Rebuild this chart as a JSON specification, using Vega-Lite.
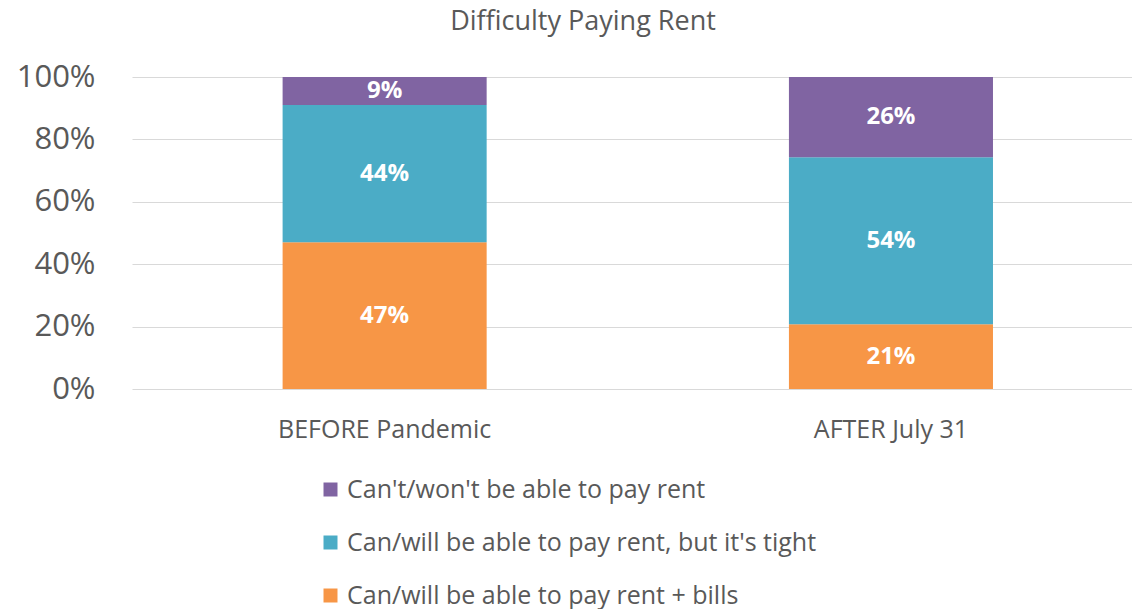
{
  "$schema": "https://vega.github.io/schema/vega-lite/v6.json",
  "autosize": "none",
  "width": 1000,
  "height": 312,
  "padding": {"left": 132, "top": 77, "right": 0, "bottom": 220},
  "background": "white",
  "config": {
    "font": "Open Sans",
    "view": {"stroke": null}
  },
  "title": {
    "text": "Difficulty Paying Rent",
    "fontSize": 27,
    "fontWeight": "normal",
    "color": "#595959",
    "font": "Open Sans",
    "anchor": "middle",
    "dx": -49,
    "offset": 25
  },
  "data": {
    "values": [
      {"period": "BEFORE Pandemic", "response": "Can/will be able to pay rent + bills", "value": 47, "label": "47%", "ord": 1},
      {"period": "BEFORE Pandemic", "response": "Can/will be able to pay rent, but it's tight", "value": 44, "label": "44%", "ord": 2},
      {"period": "BEFORE Pandemic", "response": "Can't/won't be able to pay rent", "value": 9, "label": "9%", "ord": 3},
      {"period": "AFTER July 31", "response": "Can/will be able to pay rent + bills", "value": 21, "label": "21%", "ord": 1},
      {"period": "AFTER July 31", "response": "Can/will be able to pay rent, but it's tight", "value": 54, "label": "54%", "ord": 2},
      {"period": "AFTER July 31", "response": "Can't/won't be able to pay rent", "value": 26, "label": "26%", "ord": 3}
    ]
  },
  "encoding": {
    "x": {
      "field": "period",
      "type": "nominal",
      "sort": ["BEFORE Pandemic", "AFTER July 31"],
      "scale": {"paddingInner": 0.597, "paddingOuter": 0.286, "align": 0.52},
      "axis": {
        "title": null,
        "labelAngle": 0,
        "labelFontSize": 25,
        "labelColor": "#595959",
        "labelPadding": 28,
        "labelLimit": 500,
        "domain": false,
        "ticks": false
      }
    },
    "y": {
      "field": "value",
      "type": "quantitative",
      "stack": "normalize",
      "axis": {
        "title": null,
        "format": ".0%",
        "values": [0, 0.2, 0.4, 0.6, 0.8, 1],
        "labelFontSize": 31,
        "labelColor": "#595959",
        "labelPadding": 37,
        "domain": false,
        "ticks": false,
        "gridColor": "#d9d9d9",
        "gridWidth": 1.2
      }
    },
    "order": {"field": "ord", "type": "quantitative"}
  },
  "layer": [
    {
      "mark": {"type": "bar"},
      "encoding": {
        "color": {
          "field": "response",
          "type": "nominal",
          "scale": {
            "domain": ["Can't/won't be able to pay rent", "Can/will be able to pay rent, but it's tight", "Can/will be able to pay rent + bills"],
            "range": ["#8064A2", "#4BACC6", "#F79646"]
          },
          "legend": {
            "title": null,
            "orient": "none",
            "legendX": 186,
            "legendY": 400,
            "direction": "vertical",
            "symbolType": "square",
            "symbolSize": 196,
            "symbolStrokeWidth": 0,
            "labelFontSize": 25,
            "labelColor": "#595959",
            "labelOffset": 4,
            "rowPadding": 27,
            "labelLimit": 800
          }
        }
      }
    },
    {
      "mark": {"type": "text", "color": "white", "fontSize": 24, "fontWeight": "bold", "baseline": "middle"},
      "encoding": {
        "y": {"field": "value", "type": "quantitative", "stack": "normalize", "bandPosition": 0.5},
        "text": {"field": "label", "type": "nominal"}
      }
    }
  ]
}
